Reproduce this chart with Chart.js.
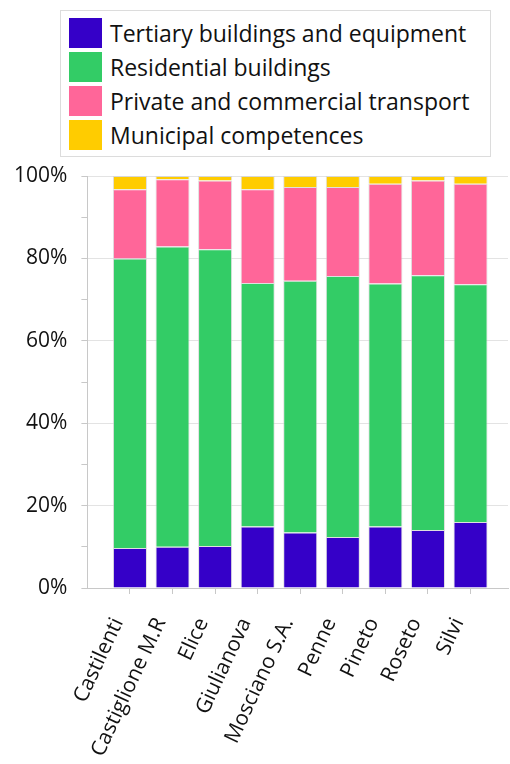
<!DOCTYPE html>
<html lang="en">
<head>
<meta charset="UTF-8">
<title>Energy consumption share by sector</title>
<style>
  body {
    margin: 0;
    background: #fff;
    font-family: 'Open Sans', sans-serif;
  }
  .wrap {
    position: relative;
    width: 510px;
    height: 764px;
  }
  #legend {
    position: absolute;
    left: 60px;
    top: 10px;
    width: 429px;
    height: 145px;
    border: 1px solid #dcdcdc;
    background: #fff;
  }
  #legend div {
    position: absolute;
    left: 8px;
    height: 30px;
    line-height: 30px;
    font-size: 23px;
    color: #111;
    padding-left: 41px;
    white-space: nowrap;
  }
  #legend span {
    position: absolute;
    left: 0;
    top: 0;
    width: 33px;
    height: 30px;
  }
</style>
</head>
<body>
<div class="wrap">
  <canvas id="chart"></canvas>
  <div id="legend"></div>
</div>

<script src="https://cdn.jsdelivr.net/npm/chart.js"></script>
<script>
  const towns = ['Castilenti', 'Castiglione M.R', 'Elice', 'Giulianova', 'Mosciano S.A.', 'Penne', 'Pineto', 'Roseto', 'Silvi'];

  // shares in %, bottom to top
  const tertiary = [9.7, 10.0, 10.2, 14.9, 13.5, 12.4, 14.9, 14.1, 16.0];
  const residential = [70.3, 72.9, 72.0, 59.1, 61.1, 63.3, 59.0, 61.8, 57.7];
  const transport = [16.8, 16.3, 16.7, 22.8, 22.7, 21.6, 24.2, 23.0, 24.4];
  const municipal = [3.2, 0.8, 1.1, 3.2, 2.7, 2.7, 1.9, 1.1, 1.9];

  const seriesNames = ['Tertiary buildings and equipment', 'Residential buildings', 'Private and commercial transport', 'Municipal competences'];
  const seriesColors = ['#3500c8', '#33cc66', '#ff6699', '#ffcc00'];
  const seriesValues = [tertiary, residential, transport, municipal];

  const datasets = seriesValues.map((vals, k) => ({
    label: seriesNames[k],
    data: vals.map((v, i) => ({ x: i, y: v })),
    backgroundColor: seriesColors[k],
    borderColor: 'rgba(210,210,210,0.7)',
    borderWidth: 1,
    barPercentage: 1,
    categoryPercentage: 0.8
  }));

  // html legend
  const legend = document.getElementById('legend');
  seriesNames.forEach((name, k) => {
    const row = document.createElement('div');
    row.style.top = (7 + 34 * k) + 'px';
    row.innerHTML = '<span style="background:' + seriesColors[k] + '"></span>' + name;
    legend.appendChild(row);
  });

  const axisGray = '#c8c8c8';

  new Chart(document.getElementById('chart'), {
    type: 'bar',
    data: { datasets: datasets },
    options: {
      responsive: true,
      maintainAspectRatio: false,
      animation: false,
      layout: { padding: { left: 0, right: 2, top: 176, bottom: 0 } },
      plugins: {
        legend: { display: false },
        tooltip: { enabled: false }
      },
      scales: {
        x: {
          type: 'linear',
          offset: false,
          min: -1,
          max: 8.88,
          stacked: true,
          afterBuildTicks: scale => { scale.ticks = towns.map((t, i) => ({ value: i })); },
          afterFit: scale => { scale.paddingLeft = 0; scale.paddingRight = 0; scale.height = 176; },
          ticks: {
            autoSkip: false,
            minRotation: 65,
            maxRotation: 65,
            padding: 20,
            labelOffset: -12,
            color: '#111',
            font: { family: 'Open Sans', size: 21 },
            callback: v => towns[v]
          },
          grid: { drawOnChartArea: false, offset: false, tickLength: 6, color: axisGray },
          border: { color: axisGray }
        },
        y: {
          min: 0,
          max: 100,
          stacked: true,
          ticks: {
            stepSize: 10,
            padding: 14,
            color: '#111',
            font: { family: 'Open Sans', size: 21 },
            callback: v => (v % 20 === 0 ? v + '%' : '')
          },
          grid: {
            tickLength: 6,
            color: c => (c.tick && c.tick.value % 20 === 0 ? '#e3e3e3' : 'rgba(0,0,0,0)'),
            tickColor: axisGray
          },
          border: { color: axisGray }
        }
      }
    }
  });
</script>
</body>
</html>
